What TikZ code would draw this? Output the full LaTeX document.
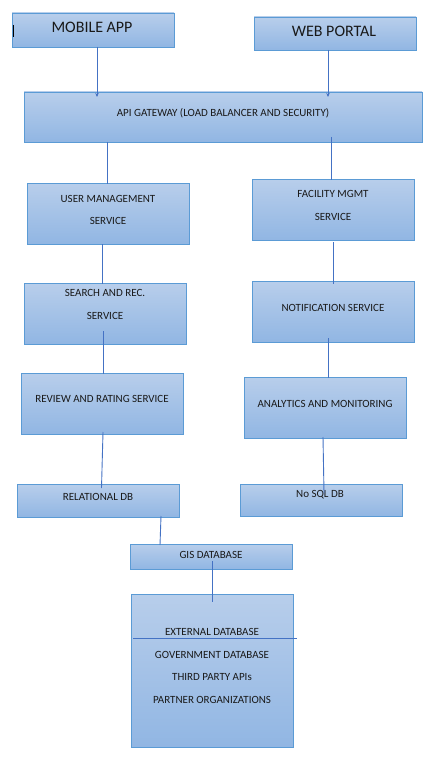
\documentclass[tikz,border=0pt]{standalone}
\usepackage{fontspec}
\setmainfont{Carlito}
\usetikzlibrary{arrows.meta}
\definecolor{boxtop}{RGB}{184,206,235}
\definecolor{boxbot}{RGB}{145,182,227}
\definecolor{boxline}{RGB}{91,155,213}
\definecolor{conn}{RGB}{68,114,196}
\begin{document}
\begin{tikzpicture}[x=1pt,y=-1pt,
  box/.style={rectangle,draw=boxline,line width=0.9pt,top color=boxtop,bottom color=boxbot,inner sep=0pt,minimum width=162pt},
  lbl/.style={font=\fontsize{11}{13}\selectfont,text=black!90,inner sep=0pt,yshift=-1pt},
  big/.style={font=\fontsize{16}{19}\selectfont,text=black!90,inner sep=0pt,yshift=-1pt},
  conline/.style={draw=conn,line width=0.9pt},
  arr/.style={conline,-{Stealth[length=4pt,width=3.5pt]}}]
\useasboundingbox (0,0) rectangle (441,762);
\fill[white] (0,0) rectangle (441,762);
% boxes
\node[box,minimum height=34pt] (mob) at (93,30) {};
\node[box,minimum height=33pt] (web) at (335,33.5) {};
\node[box,minimum width=398pt,minimum height=50pt] (api) at (223,117) {};
\node[box,minimum height=61pt] (user) at (108,213.5) {};
\node[box,minimum height=61pt] (fac) at (333,209.5) {};
\node[box,minimum height=61pt] (search) at (105,313.5) {};
\node[box,minimum height=61pt] (notif) at (333,311.5) {};
\node[box,minimum height=61pt] (review) at (102,403.5) {};
\node[box,minimum height=61pt] (anal) at (325,407.5) {};
\node[box,minimum height=33pt] (rel) at (98,500.5) {};
\node[box,minimum height=32pt] (nosql) at (321,500) {};
\node[box,minimum height=25pt] (gis) at (211,556.5) {};
\node[box,minimum height=153pt] (ext) at (212,670.5) {};
% texts
\node[big] (tmob) at (92,26) {MOBILE APP};
\node[big] (tweb) at (334,30) {WEB PORTAL};
\node[lbl] (tapi) at (223,112) {API GATEWAY (LOAD BALANCER AND SECURITY)};
\node[lbl] (tuser1) at (108,198) {USER MANAGEMENT};
\node[lbl] (tuser2) at (108,220) {SERVICE};
\node[lbl] (tfac1) at (333,193) {FACILITY MGMT};
\node[lbl] (tfac2) at (333,216) {SERVICE};
\node[lbl] (tsearch1) at (105,292) {SEARCH AND REC.};
\node[lbl] (tsearch2) at (105,315) {SERVICE};
\node[lbl] (tnotif) at (333,307) {NOTIFICATION SERVICE};
\node[lbl] (treview) at (102,398) {REVIEW AND RATING SERVICE};
\node[lbl] (tanal) at (325,403) {ANALYTICS AND MONITORING};
\node[lbl] (trel) at (98,496) {RELATIONAL DB};
\node[lbl] (tnosql) at (320,494) {No SQL DB};
\node[lbl] (tgis) at (211,554) {GIS DATABASE};
\node[lbl] (text1) at (212,631) {EXTERNAL DATABASE};
\node[lbl] (text2) at (212,654) {GOVERNMENT DATABASE};
\node[lbl] (text3) at (212,676) {THIRD PARTY APIs};
\node[lbl] (text4) at (212,699) {PARTNER ORGANIZATIONS};
% connector coordinates
\coordinate (m1) at (97,47); \coordinate (m2) at (97,97);
\coordinate (w1) at (328,50); \coordinate (w2) at (328,97);
\coordinate (a1) at (107,142); \coordinate (a2) at (107,184);
\coordinate (b1) at (331,137); \coordinate (b2) at (331,180);
\coordinate (c1) at (102,244); \coordinate (c2) at (102,284);
\coordinate (d1) at (333,242); \coordinate (d2) at (333,284);
\coordinate (e1) at (103,331); \coordinate (e2) at (103,374);
\coordinate (f1) at (328,338); \coordinate (f2) at (328,378);
\coordinate (g1) at (103,432); \coordinate (g2) at (101.5,488);
\coordinate (h1) at (323,437); \coordinate (h2) at (324,493);
\coordinate (i1) at (161,516); \coordinate (i2) at (160,545);
\coordinate (j1) at (212.5,561); \coordinate (j2) at (212.5,602);
\coordinate (k1) at (133,638); \coordinate (k2) at (297,638);
\coordinate (cur1) at (13,25); \coordinate (cur2) at (13,37);
% connectors
\draw[arr] (m1) -- (m2);
\draw[arr] (w1) -- (w2);
\draw[conline] (a1) -- (a2);
\draw[conline] (b1) -- (b2);
\draw[conline] (c1) -- (c2);
\draw[conline] (d1) -- (d2);
\draw[conline] (e1) -- (e2);
\draw[conline] (f1) -- (f2);
\draw[conline] (g1) -- (g2);
\draw[conline] (h1) -- (h2);
\draw[conline] (i1) -- (i2);
\draw[conline] (j1) -- (j2);
\draw[conline] (k1) -- (k2);
\draw[black,line width=0.7pt] (cur1) -- (cur2);
\end{tikzpicture}
\end{document}
